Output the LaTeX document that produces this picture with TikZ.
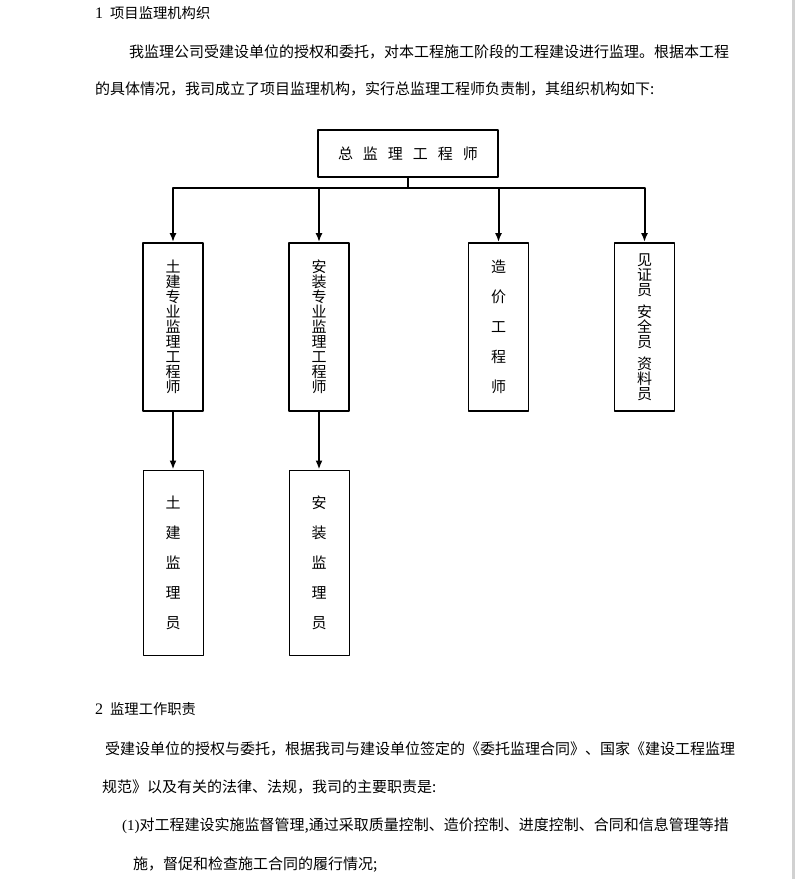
\documentclass[tikz,border=0pt]{standalone}
\usepackage{fontspec}
\setmainfont{Liberation Serif}
\newfontfamily\cjk{Noto Sans CJK SC}
\usetikzlibrary{arrows.meta,positioning}
\begin{document}
\begin{tikzpicture}[>={Latex[length=9bp,width=7bp]},line join=bevel,
  txt/.style={anchor=west,inner sep=0pt,font=\fontsize{15bp}{15bp}\selectfont\cjk},
  head/.style={txt,font=\fontsize{14.3bp}{15bp}\selectfont\cjk},
  box/.style={draw,inner sep=0pt,align=center,font=\fontsize{15bp}{15bp}\selectfont\cjk},
  rank/.style={box,line width=1.8bp,minimum width=60bp,minimum height=168bp},
  staff/.style={box,line width=1bp,minimum width=60bp,minimum height=185bp},
  link/.style={->,line width=2bp}]
%%
\useasboundingbox (0bp,0bp) rectangle (795bp,-879bp);
\fill[black!18] (792bp,0bp) rectangle (795bp,-879bp);
%% text above
\node (h1) at (95bp,-13bp) [head] {{\rmfamily\fontsize{16bp}{16bp}\selectfont 1}\hspace{7bp}项目监理机构织};
  \node (p1a) at (129bp,-52bp) [txt] {我监理公司受建设单位的授权和委托，对本工程施工阶段的工程建设进行监理。根据本工程};
  \node (p1b) at (95bp,-89bp) [txt] {的具体情况，我司成立了项目监理机构，实行总监理工程师负责制，其组织机构如下:};
%% chart
\node (chief) at (408bp,-153.5bp) [box,line width=1.2bp,minimum width=180bp,minimum height=47bp]
  {总\hspace{10bp}监\hspace{10bp}理\hspace{10bp}工\hspace{10bp}程\hspace{10bp}师};
  \node (civ) at (173bp,-327bp) [rank] {土\\建\\专\\业\\监\\理\\工\\程\\师};
  \node (inst) at (319bp,-327bp) [rank] {安\\装\\专\\业\\监\\理\\工\\程\\师};
  \node (cost) at (498.5bp,-327bp) [rank] {造\\[15bp]价\\[15bp]工\\[15bp]程\\[15bp]师};
  \node (misc) at (644.5bp,-327bp) [rank] {见\\证\\员\\[7bp]安\\全\\员\\[7bp]资\\料\\员};
  \node (civsup) at (173bp,-562.5bp) [staff] {土\\[15bp]建\\[15bp]监\\[15bp]理\\[15bp]员};
  \node (instsup) at (319bp,-562.5bp) [staff] {安\\[15bp]装\\[15bp]监\\[15bp]理\\[15bp]员};
  \draw [link] (chief.south) -- ++(0,-10bp) -| (civ);
  \draw [link] (chief.south) -- ++(0,-10bp) -| (inst);
  \draw [link] (chief.south) -- ++(0,-10bp) -| (cost);
  \draw [link] (chief.south) -- ++(0,-10bp) -| (misc);
  \draw [link] (civ) -- (civsup);
  \draw [link] (inst) -- (instsup);
%% text below
\node (h2) at (95bp,-709bp) [head] {{\rmfamily\fontsize{16bp}{16bp}\selectfont 2}\hspace{7bp}监理工作职责};
  \node (p2a) at (105bp,-749bp) [txt] {受建设单位的授权与委托，根据我司与建设单位签定的《委托监理合同》、国家《建设工程监理};
  \node (p2b) at (102bp,-787bp) [txt] {规范》以及有关的法律、法规，我司的主要职责是:};
  \node (i1a) at (122bp,-826bp) [txt] {{\rmfamily (1)}对工程建设实施监督管理,通过采取质量控制、造价控制、进度控制、合同和信息管理等措};
  \node (i1b) at (133bp,-865bp) [txt] {施，督促和检查施工合同的履行情况;};
%
\end{tikzpicture}
\end{document}
